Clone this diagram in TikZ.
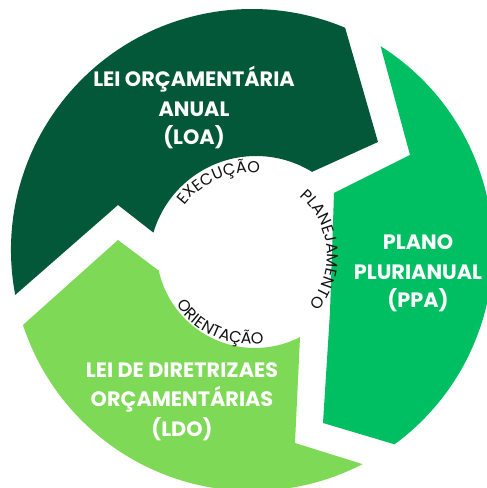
\documentclass[tikz,border=0pt]{standalone}
\usepackage{fontspec}
\setmainfont{Poppins}
\usetikzlibrary{calc,decorations.text}
\definecolor{loacol}{HTML}{03583A}
\definecolor{ppacol}{HTML}{00BF63}
\definecolor{ldocol}{HTML}{7ED957}
\definecolor{txtcol}{HTML}{111111}
\newcommand{\titlefnt}{\fontsize{20.8}{24}\selectfont\bfseries}
\newcommand{\arcfnt}{\fontsize{16}{19}\selectfont}
\begin{document}
\begin{tikzpicture}[x=1pt,y=1pt,
  title/.style={text=white, font=\titlefnt, anchor=base, inner sep=0pt},
  arctext/.style={decorate, decoration={text along path, text align=center, text color=txtcol}}]
\useasboundingbox (0,0) rectangle (487,488);
\clip (0,0) rectangle (487,488);
\coordinate (O) at (252,238);
\coordinate (L) at (256,225);
\coordinate (D) at (255,238.5);
\coordinate (H) at (250,233);
% LOA
\fill[loacol] ($(L)+(163.5:107pt)$) -- (118,283) -- ($(O)+(190.75:241pt)$)
  arc[start angle=190.75, end angle=67.27, radius=241pt] -- (378,346)
  -- ($(L)+(58.4:107pt)$) arc[start angle=58.4, end angle=163.5, radius=107pt] -- cycle;
% PPA
\fill[ppacol] (334,295) -- (410,333) -- ($(O)+(57.76:241pt)$)
  arc[start angle=57.76, end angle=-53.74, radius=241pt] -- (323,65) -- (330,176) -- cycle;
% LDO
\fill[ldocol] ($(D)+(297.2:98.5pt)$) -- (295,45) -- ($(O)+(297.31:241pt)$)
  arc[start angle=297.31, end angle=198.13, radius=241pt] -- (118,248)
  -- ($(D)+(192.4:98.5pt)$) arc[start angle=192.4, end angle=297.2, radius=98.5pt] -- cycle;
% titles
\node[title] (loa1) at (194,401.3) {LEI ORÇAMENTÁRIA};
\node[title] (loa2) at (194,371.3) {ANUAL};
\node[title] (loa3) at (194,343) {(LOA)};
\node[title] (ppa1) at (418,238) {PLANO};
\node[title] (ppa2) at (418,208) {PLURIANUAL};
\node[title] (ppa3) at (418,180) {(PPA)};
\node[title] (ldo1) at (182,110) {LEI DE DIRETRIZAES};
\node[title] (ldo2) at (182,81) {ORÇAMENTÁRIAS};
\node[title] (ldo3) at (182,51) {(LDO)};
% curved labels
\path[arctext, decoration={text={|\arcfnt|EXECUÇÃO}}]
  ($(H)+(153:82pt)$) arc[start angle=153, end angle=73, radius=82pt];
\path[arctext, decoration={text={|\arcfnt|PLANEJAMENTO}}]
  ($(H)+(50:77pt)$) arc[start angle=50, end angle=-40, radius=77pt];
\path[arctext, decoration={text={|\arcfnt|ORIENTAÇÃO}}]
  ($(H)+(206.5:89pt)$) arc[start angle=206.5, end angle=286.5, radius=89pt];
\end{tikzpicture}
\end{document}
